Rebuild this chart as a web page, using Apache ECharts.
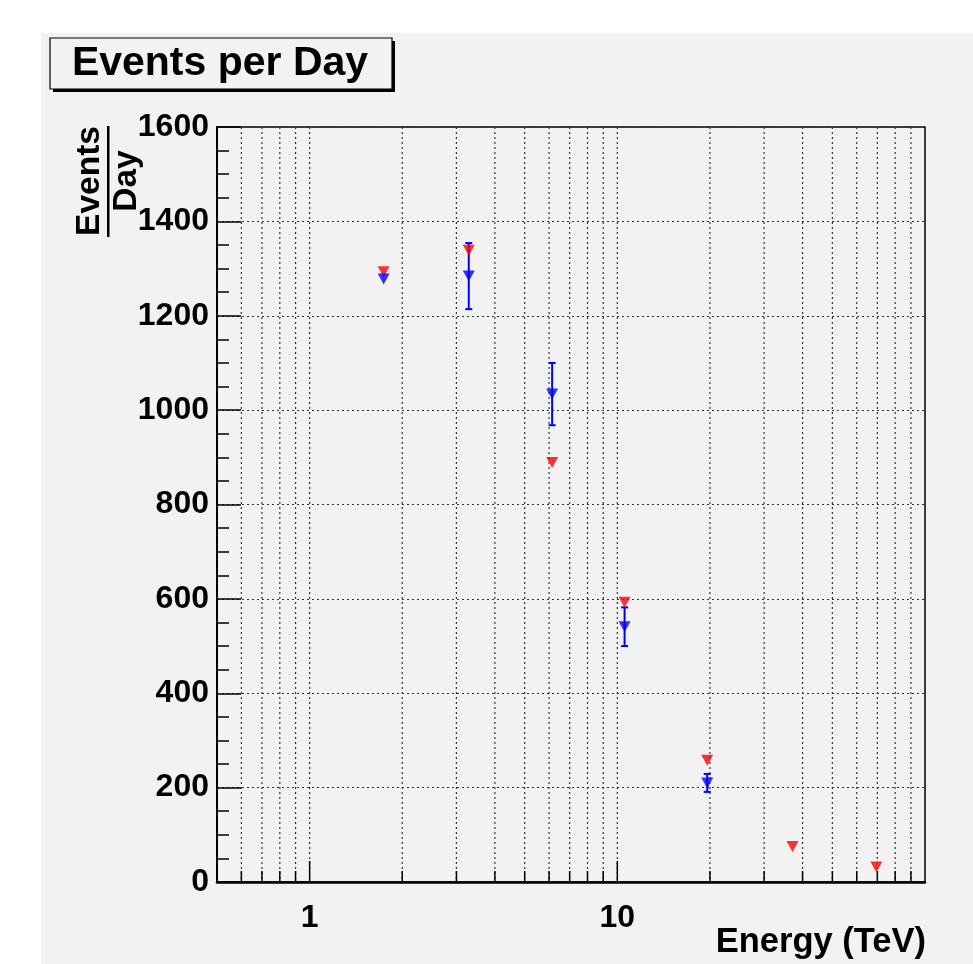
<!DOCTYPE html>
<html>
<head>
<meta charset="utf-8">
<script src="https://cdn.jsdelivr.net/npm/echarts@6/dist/echarts.min.js"></script>
<style>
html,body{margin:0;padding:0;background:#fff;}
#c{width:973px;height:964px;}
</style>
</head>
<body>
<div id="c"></div>
<script>
// ---- data ----
const energyRed = [1.74, 3.29, 6.14, 10.56, 19.6, 37.1, 69.5];
const eventsRed = [1293, 1339, 889, 593, 258, 75, 32];
const energyBlue = [1.74, 3.29, 6.14, 10.56, 19.6];
const eventsBlue = [1278, 1284, 1034, 541, 210];
const errBlue = [0, 70, 66, 41, 19];
const xLabels = [1, 10];
const xMajorTicks = [1, 10];
const xMinorTicks = [0.6, 0.7, 0.8, 0.9, 2, 3, 4, 5, 6, 7, 8, 9, 20, 30, 40, 50, 60, 70, 80, 90];
const yMin = 0, yMax = 1600, yStep = 200;
const xMin = 0.5, xMax = 100;

const FONT = '"Liberation Sans", Arial, Helvetica, sans-serif';

const chart = echarts.init(document.getElementById('c'), null, {renderer: 'canvas'});

const tickData = xMajorTicks.map(v => [v, 1]).concat(xMinorTicks.map(v => [v, 0]));

function tickRender(params, api) {
  const v = api.value(0);
  const major = api.value(1) === 1;
  const pb = api.coord([v, yMin]);
  const pt = api.coord([v, yMax]);
  const len = major ? 21 : 11;
  return {
    type: 'group',
    children: [
      {type: 'line', shape: {x1: pb[0], y1: pt[1], x2: pb[0], y2: pb[1]},
       style: {stroke: '#333', lineWidth: 1.2, lineDash: [2, 3]}},
      {type: 'line', shape: {x1: pb[0], y1: pb[1], x2: pb[0], y2: pb[1] - len},
       style: {stroke: '#000', lineWidth: 1.5}}
    ]
  };
}

function labelRender(params, api) {
  const v = api.value(0);
  const p = api.coord([v, yMin]);
  return {
    type: 'text', x: p[0], y: p[1] + 36,
    style: {text: String(xLabels[params.dataIndex]), font: 'bold 32px ' + FONT, fill: '#000', align: 'center', verticalAlign: 'middle'}
  };
}

function errRender(params, api) {
  const x = api.value(0);
  const lo = api.value(1), hi = api.value(2);
  if (hi - lo <= 0) return null;
  const a = api.coord([x, lo]);
  const b = api.coord([x, hi]);
  const c = 3.5;
  const st = {stroke: '#0000ff', lineWidth: 2};
  return {
    type: 'group',
    children: [
      {type: 'line', shape: {x1: a[0], y1: a[1], x2: b[0], y2: b[1]}, style: st},
      {type: 'line', shape: {x1: a[0] - c, y1: a[1], x2: a[0] + c, y2: a[1]}, style: st},
      {type: 'line', shape: {x1: b[0] - c, y1: b[1], x2: b[0] + c, y2: b[1]}, style: st}
    ]
  };
}

const errData = energyBlue.map((e, i) => [e, eventsBlue[i] - errBlue[i], eventsBlue[i] + errBlue[i]]);

const option = {
  animation: false,
  backgroundColor: '#ffffff',
  graphic: [
    {type: 'rect', z: -10, shape: {x: 41, y: 33, width: 932, height: 931}, style: {fill: '#f2f2f2'}, silent: true},
    {type: 'rect', z: 10, shape: {x: 53, y: 41, width: 342, height: 51}, style: {fill: '#000'}},
    {type: 'rect', z: 11, shape: {x: 50, y: 38, width: 342, height: 51}, style: {fill: '#f2f2f2', stroke: '#000', lineWidth: 1.2}},
    {type: 'text', z: 12, x: 220, y: 64, style: {text: 'Events per Day', font: 'bold 41px ' + FONT, fill: '#000', align: 'center', verticalAlign: 'middle'}},
    {type: 'text', z: 12, x: 926, y: 942, style: {text: 'Energy (TeV)', font: 'bold 34.5px ' + FONT, fill: '#000', align: 'right', verticalAlign: 'middle'}},
    {type: 'text', z: 12, x: 90, y: 181, rotation: Math.PI / 2, style: {text: 'Events', font: 'bold 33.5px ' + FONT, fill: '#000', align: 'center', verticalAlign: 'middle'}},
    {type: 'rect', z: 12, shape: {x: 107, y: 126, width: 2.5, height: 111}, style: {fill: '#000'}},
    {type: 'text', z: 12, x: 127, y: 181, rotation: Math.PI / 2, style: {text: 'Day', font: 'bold 33.5px ' + FONT, fill: '#000', align: 'center', verticalAlign: 'middle'}}
  ],
  grid: {left: 217, top: 127, right: 48, bottom: 82, show: true, borderColor: '#000', borderWidth: 1.5, backgroundColor: 'transparent'},
  xAxis: {
    type: 'log', logBase: 10, min: xMin, max: xMax,
    axisLine: {show: true, lineStyle: {color: '#000', width: 2.5}},
    axisTick: {show: false},
    splitLine: {show: false},
    minorTick: {show: false},
    axisLabel: {show: false}
  },
  yAxis: {
    type: 'value', min: yMin, max: yMax, interval: yStep,
    axisLine: {show: true, lineStyle: {color: '#000', width: 2}},
    axisTick: {show: true, inside: true, length: 24, lineStyle: {color: '#000', width: 1.5}},
    minorTick: {show: true, splitNumber: 4, length: 12, lineStyle: {color: '#000', width: 1.5}},
    splitLine: {show: true, lineStyle: {color: '#333', width: 1.2, type: [2, 3]}},
    axisLabel: {fontFamily: FONT, fontWeight: 'bold', fontSize: 32, color: '#000', margin: 8, padding: [8, 0, 0, 0],
      formatter: function (v) { return String(v); }}
  },
  series: [
    {type: 'custom', name: 'ticks', renderItem: tickRender, data: tickData, silent: true, z: 1, clip: false,
     encode: {x: 0, y: 1}},
    {type: 'custom', name: 'xlabels', renderItem: labelRender, data: xLabels.map(v => [v, yMin]), silent: true, z: 1, clip: false,
     encode: {x: 0, y: 1}},
    {type: 'custom', name: 'err', renderItem: errRender, data: errData, silent: true, z: 3,
     encode: {x: 0, y: [1, 2]}},
    {type: 'scatter', name: 'red', data: energyRed.map((e, i) => [e, eventsRed[i]]),
     symbol: 'triangle', symbolRotate: 180, symbolSize: [12, 11], itemStyle: {color: '#ff0000'}, z: 4},
    {type: 'scatter', name: 'blue', data: energyBlue.map((e, i) => [e, eventsBlue[i]]),
     symbol: 'triangle', symbolRotate: 180, symbolSize: [12, 11], itemStyle: {color: '#0000ff'}, z: 5}
  ]
};
chart.setOption(option);
</script>
</body>
</html>
